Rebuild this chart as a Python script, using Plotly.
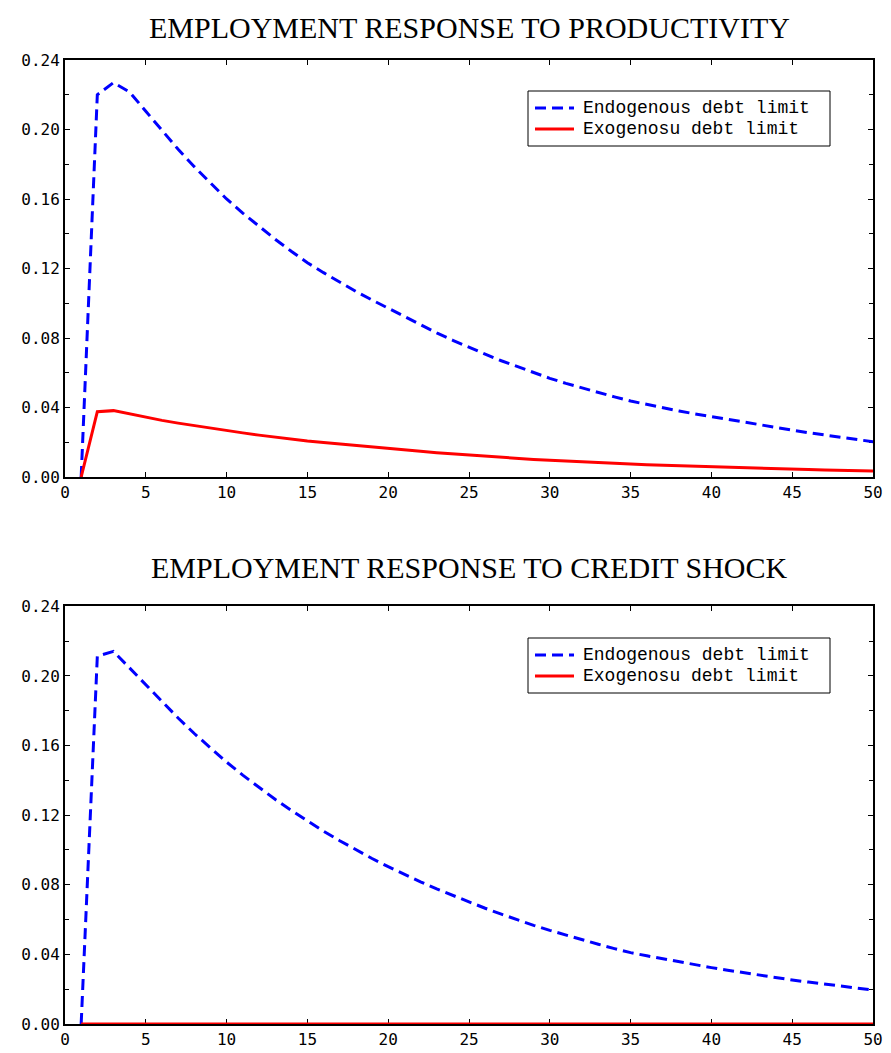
import plotly.graph_objects as go

periods = list(range(1, 51))

prod_endog = [0.0, 0.220, 0.227, 0.2215, 0.2105, 0.1993, 0.1886, 0.1786, 0.1690, 0.1600,
              0.1519, 0.1442, 0.1369, 0.1299, 0.1233, 0.1176, 0.1121, 0.1068, 0.1019, 0.0971,
              0.0921, 0.0874, 0.0829, 0.0787, 0.0746, 0.0707, 0.0669, 0.0634, 0.0600, 0.0568,
              0.0539, 0.0512, 0.0486, 0.0461, 0.0437, 0.0417, 0.0398, 0.0380, 0.0363, 0.0347,
              0.0330, 0.0314, 0.0298, 0.0284, 0.0270, 0.0255, 0.0241, 0.0228, 0.0215, 0.0203]

prod_exog = [0.0, 0.0376, 0.0382, 0.0362, 0.0343, 0.0326, 0.0310, 0.0295, 0.0281, 0.0267,
             0.0254, 0.0241, 0.0229, 0.0218, 0.0207, 0.0198, 0.0189, 0.0181, 0.0173, 0.0165,
             0.0156, 0.0148, 0.0140, 0.0133, 0.0126, 0.0119, 0.0113, 0.0107, 0.0101, 0.0096,
             0.0091, 0.0087, 0.0083, 0.0079, 0.0075, 0.0071, 0.0068, 0.0064, 0.0061, 0.0058,
             0.0055, 0.0052, 0.0050, 0.0047, 0.0045, 0.0043, 0.0041, 0.0039, 0.0037, 0.0035]

credit_endog = [0.0, 0.2113, 0.2141, 0.2044, 0.1950, 0.1852, 0.1758, 0.1669, 0.1585, 0.1505,
                0.1430, 0.1359, 0.1291, 0.1227, 0.1166, 0.1108, 0.1053, 0.1001, 0.0951, 0.0904,
                0.0859, 0.0817, 0.0776, 0.0738, 0.0701, 0.0665, 0.0631, 0.0598, 0.0567, 0.0538,
                0.0510, 0.0483, 0.0458, 0.0433, 0.0410, 0.0392, 0.0374, 0.0357, 0.0340, 0.0324,
                0.0309, 0.0294, 0.0280, 0.0266, 0.0253, 0.0241, 0.0229, 0.0217, 0.0206, 0.0195]

credit_exog = [0.0] * 50

titles = ["EMPLOYMENT RESPONSE TO PRODUCTIVITY", "EMPLOYMENT RESPONSE TO CREDIT SHOCK"]
names = ["Endogenous debt limit", "Exogenosu debt limit"]
y_ticks = [0.00, 0.04, 0.08, 0.12, 0.16, 0.20, 0.24]
x_ticks = [0, 5, 10, 15, 20, 25, 30, 35, 40, 45, 50]

BLUE = "#0000ff"
RED = "#ff0000"
DASH = "11px,6px"
TICK_FONT = dict(family="DejaVu Sans Mono", size=16, color="black")
LEG_FONT = dict(family="Liberation Mono", size=18, color="black")
TITLE_FONT = dict(family="Liberation Serif", size=30, color="black")

fig = go.Figure()

panels = [(prod_endog, prod_exog, "x", "y"),
          (credit_endog, credit_exog, "x2", "y2")]
for endog, exog, xa, ya in panels:
    fig.add_trace(go.Scatter(x=periods, y=endog, mode="lines", name=names[0],
                             line=dict(color=BLUE, width=3, dash=DASH),
                             xaxis=xa, yaxis=ya, showlegend=False, cliponaxis=False))
    fig.add_trace(go.Scatter(x=periods, y=exog, mode="lines", name=names[1],
                             line=dict(color=RED, width=3),
                             xaxis=xa, yaxis=ya, showlegend=False, cliponaxis=False))

# page has an 8px body margin: compensate so the plot lands where the reference has it
OFF = 8
W, H = 891 - OFF, 1053 - OFF
top_px, bot_px = 60 - OFF, 29
plot_h = H - top_px - bot_px
plot_w = 808
dom_top = [1 - 417 / plot_h, 1.0]
dom_bot = [0.0, 417.7 / plot_h]


def px_(page_x):
    return (page_x - 65) / plot_w


def py(page_y):
    return 1 - (page_y - 60) / plot_h


def xaxis(anchor):
    return dict(range=[0, 50], tickvals=x_ticks, ticktext=[str(v) for v in x_ticks],
                ticks="inside", ticklen=5, tickwidth=1, tickcolor="black",
                showline=True, linecolor="black", linewidth=2, mirror="ticks",
                showgrid=False, zeroline=False, tickfont=TICK_FONT, anchor=anchor,
                automargin=False, layer="below traces")


def yaxis(anchor, dom):
    return dict(range=[0, 0.24], tickvals=y_ticks, ticktext=[f"{v:.2f}" for v in y_ticks],
                ticks="inside", ticklen=5, tickwidth=1, tickcolor="black",
                minor=dict(dtick=0.02, tick0=0, ticks="inside", ticklen=4, tickcolor="black", showgrid=False),
                showline=True, linecolor="black", linewidth=2, mirror="ticks",
                showgrid=False, zeroline=False, tickfont=TICK_FONT, anchor=anchor, domain=dom,
                automargin=False, layer="below traces")


shapes = []
annotations = [
    dict(text=titles[0], xref="paper", yref="paper", x=0.5, y=py(OFF + 1),
         xanchor="center", yanchor="top", showarrow=False, font=TITLE_FONT),
    dict(text=titles[1], xref="paper", yref="paper", x=0.5, y=py(567),
         xanchor="center", yanchor="middle", showarrow=False, font=TITLE_FONT),
]

# legend boxes (one per panel)
for top in (91, 638):
    shapes.append(dict(type="rect", xref="paper", yref="paper",
                       x0=px_(528), x1=px_(830), y0=py(top), y1=py(top + 55),
                       line=dict(color="black", width=1), fillcolor="white", layer="above"))
    rows = [(top + 17, BLUE, DASH, names[0]), (top + 38, RED, "solid", names[1])]
    for ry, col, dash, label in rows:
        shapes.append(dict(type="line", xref="paper", yref="paper",
                           x0=px_(535), x1=px_(574), y0=py(ry), y1=py(ry),
                           line=dict(color=col, width=3, dash=dash), layer="above"))
        annotations.append(dict(text=label, xref="paper", yref="paper",
                                x=px_(582), y=py(ry), xanchor="left", yanchor="middle",
                                borderpad=0, showarrow=False, font=LEG_FONT))

fig.update_layout(
    width=W, height=H,
    margin=dict(l=65 - OFF, r=18, t=top_px, b=bot_px),
    paper_bgcolor="white", plot_bgcolor="white",
    showlegend=False,
    xaxis=xaxis("y"), yaxis=yaxis("x", dom_top),
    xaxis2=xaxis("y2"), yaxis2=yaxis("x2", dom_bot),
    shapes=shapes,
    annotations=annotations,
)

fig.write_html("out.html")
